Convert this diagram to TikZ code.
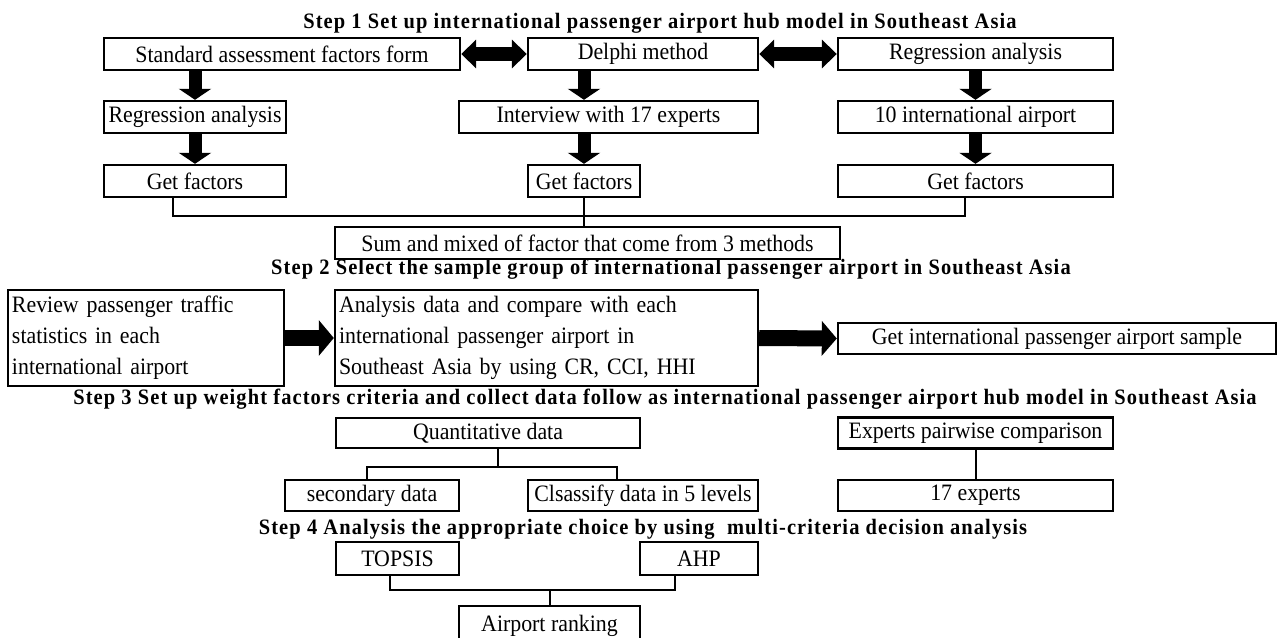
\documentclass[tikz,border=0pt]{standalone}
\usepackage{fontspec}
\setmainfont[FakeStretch=0.93]{Liberation Serif}
\usetikzlibrary{arrows.meta}
\usetikzlibrary{calc}
\tikzset{box/.style={draw, line width=2.4pt, inner sep=0pt, minimum height=32pt,
         font=\fontsize{23.5}{26}\selectfont},
         para/.style={box, align=left, inner xsep=4pt, font=\fontsize{23.5}{31}\selectfont},
         steptitle/.style={font=\fontsize{22}{24}\selectfont\bfseries\addfontfeature{LetterSpace=5},
                           inner sep=0pt, anchor=base},
         link/.style={line width=2pt},
         fat/.style={line width=13pt, -{Triangle[length=11pt,width=32pt]}},
         fatboth/.style={line width=14pt, {Triangle[length=15pt,width=28pt]}-{Triangle[length=15pt,width=28pt]}}}

\begin{document}
\begin{tikzpicture}[x=1pt,y=-1pt]
\useasboundingbox (0,0) rectangle (1279,637);
\fill[white] (0,0) rectangle (1279,637);
\clip (0,0) rectangle (1279,637);

% step 1
\node[steptitle] (t1) at (660,28) {Step 1 Set up international passenger airport hub model in Southeast Asia};
\node[box, minimum width=356pt] (a1) at (282,54) {Standard assessment factors form};
\node[box, minimum width=230pt] (b1) at (643,54) {Delphi method};
\node[box, minimum width=275pt] (c1) at (975.5,54) {Regression analysis};
\node[box, minimum width=182pt] (a2) at (195,117) {Regression analysis};
\node[box, minimum width=299pt] (b2) at (608.5,117) {Interview with 17 experts};
\node[box, minimum width=275pt] (c2) at (975.5,117) {10 international airport};
\node[box, minimum width=182pt] (a3) at (195,181) {Get factors};
\node[box, minimum width=112pt] (b3) at (584,181) {Get factors};
\node[box, minimum width=275pt] (c3) at (975.5,181) {Get factors};
\node[box, minimum width=505pt] (sum) at (587.5,243) {Sum and mixed of factor that come from 3 methods};

\draw[fatboth] (a1.east) -- (b1.west);
\draw[fatboth] (b1.east) -- (c1.west);
\draw[fat] (a2.north |- a1.south) -- (a2.north);
\draw[fat] (a3.north |- a2.south) -- (a3.north);
\draw[fat] (b3.north |- b1.south) -- (b3.north |- b2.north);
\draw[fat] (b3.north |- b2.south) -- (b3.north);
\draw[fat] (c2.north |- c1.south) -- (c2.north);
\draw[fat] (c3.north |- c2.south) -- (c3.north);

\coordinate (j1) at ($(b3.south)+(0,18)$);
\draw[link] ($(a3.south)+(-22,0)$) |- (j1) -| ($(c3.south)+(-11,0)$);
\draw[link] (b3.south) -- (sum.north -| b3.south);

% step 2
\node[steptitle] (t2) at (671,274) {Step 2 Select the sample group of international passenger airport in Southeast Asia};
\node[para, text width=268pt, minimum height=96pt] (d1) at (146,338) {Review passenger traffic\\statistics in each\\international airport};
\node[para, text width=415pt, minimum height=96pt] (d2) at (546.5,338) {Analysis data and compare with each\\international passenger airport in\\Southeast Asia by using CR, CCI, HHI};
\node[box, minimum width=438pt, minimum height=31pt] (d3) at (1057,338.5) {Get international passenger airport sample};
\draw[fat, line width=16pt, -{Triangle[length=15pt,width=35pt]}] (d1.east) -- (d2.west);
\draw[fat, line width=16pt, -{Triangle[length=15pt,width=34pt]}] (d2.east) -- (d3.west);

% step 3
\node[steptitle] (t3) at (665,404) {Step 3 Set up weight factors criteria and collect data follow as international passenger airport hub model in Southeast Asia};
\node[box, minimum width=304pt, minimum height=30pt] (e1) at (488,433) {Quantitative data};
\node[box, minimum width=275pt, minimum height=31pt] (e2) at (975.5,433) {Experts pairwise comparison};
\node[box, minimum width=174pt, minimum height=31pt] (e3) at (372,495.5) {secondary data};
\node[box, minimum width=230pt, minimum height=31pt] (e4) at (643,495.5) {Clsassify data in 5 levels};
\node[box, minimum width=275pt, minimum height=31pt] (e5) at (975.5,495.5) {17 experts};

\coordinate (j3) at ($(e1.south)+(10,18)$);
\draw[link] ($(e1.south)+(10,0)$) -- (j3);
\draw[link] ($(e3.north)+(-5,0)$) |- (j3) -| ($(e4.north)+(-26,0)$);
\draw[link] (e2.south) -- (e5.north);

% step 4
\node[steptitle] (t4) at (643,534) {Step 4 Analysis the appropriate choice by using\ \ multi-criteria decision analysis};
\node[box, minimum width=123pt, minimum height=33pt] (f1) at (397.5,558.5) {TOPSIS};
\node[box, minimum width=118pt, minimum height=33pt] (f2) at (699,558.5) {AHP};
\node[box, minimum width=181pt, minimum height=40pt] (f3) at (549.5,626) {Airport ranking};

\coordinate (j4) at ($(f3.north)+(0,-15)$);
\draw[link] ($(f1.south)+(-8,0)$) |- (j4) -| ($(f2.south)+(-24,0)$);
\draw[link] (j4) -- (f3.north);

\end{tikzpicture}
\end{document}
